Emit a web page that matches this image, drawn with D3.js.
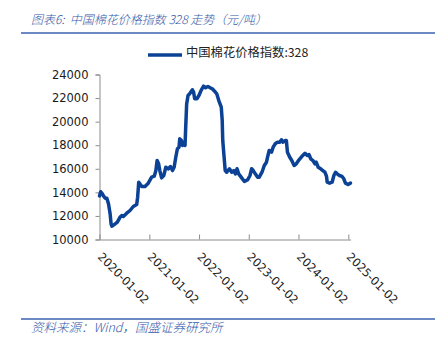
<!DOCTYPE html>
<html>
<head>
<meta charset="utf-8">
<script src="https://cdn.jsdelivr.net/npm/d3@7"></script>
<style>
  html, body { margin: 0; padding: 0; background: #fff; }
  svg { display: block; }
</style>
</head>
<body>
<svg id="chart" width="435" height="348"></svg>
<script>
// China Cotton Index 328, yuan per ton
const dates = [
  "2020-01-02","2020-01-11","2020-01-22","2020-01-31","2020-02-13","2020-02-25","2020-03-08","2020-03-20",
  "2020-03-27","2020-04-02","2020-04-11","2020-04-26","2020-05-12","2020-06-01","2020-06-14","2020-06-25",
  "2020-07-20","2020-08-13","2020-09-06","2020-10-01","2020-10-08","2020-10-16","2020-10-25","2020-11-07",
  "2020-12-01","2020-12-25","2021-01-19","2021-02-07","2021-02-19","2021-02-28","2021-03-11","2021-03-20",
  "2021-04-02","2021-04-18","2021-05-03","2021-05-20","2021-06-06","2021-06-21","2021-07-03","2021-07-15",
  "2021-07-27","2021-08-08","2021-08-13","2021-08-26","2021-09-02","2021-09-14","2021-09-21","2021-09-26",
  "2021-10-03","2021-10-13","2021-10-25","2021-11-14","2021-11-23","2021-12-01","2021-12-17","2022-01-01",
  "2022-01-19","2022-02-04","2022-02-19","2022-03-08","2022-03-25","2022-04-09","2022-04-26","2022-05-12",
  "2022-05-27","2022-06-14","2022-06-21","2022-06-25","2022-07-03","2022-07-13","2022-07-24","2022-08-13",
  "2022-08-30","2022-09-14","2022-09-26","2022-10-08","2022-10-20","2022-11-07","2022-12-01","2022-12-25",
  "2023-01-11","2023-01-23","2023-02-04","2023-02-19","2023-03-08","2023-03-20","2023-04-09","2023-04-26",
  "2023-05-12","2023-05-20","2023-06-01","2023-06-18","2023-06-30","2023-07-15","2023-08-01","2023-08-18",
  "2023-08-30","2023-09-11","2023-09-26","2023-10-05","2023-10-13","2023-10-30","2023-11-14","2023-12-01",
  "2023-12-17","2024-01-06","2024-01-26","2024-02-19","2024-03-07","2024-03-19","2024-04-01","2024-04-17",
  "2024-05-02","2024-05-11","2024-05-26","2024-06-13","2024-06-29","2024-07-14","2024-07-26","2024-07-31",
  "2024-08-17","2024-09-05","2024-09-18","2024-09-30","2024-10-12","2024-10-29","2024-11-17","2024-11-30",
  "2024-12-12","2024-12-31","2025-01-18"
];
const prices = [
  13700,14050,13900,13700,13500,13500,13030,12180,
  11330,11130,11200,11330,11470,11900,12030,11950,
  12230,12460,12800,12970,13590,14860,14720,14500,
  14500,14780,15290,15370,15850,16700,16420,15850,
  15230,15430,16130,15990,16190,15850,16130,16980,
  17700,17830,18540,18400,17980,18120,17980,19530,
  21510,22220,22360,22700,22500,21940,21940,22220,
  22700,23010,22870,22980,22870,22790,22580,22360,
  21790,21230,20100,18400,17270,15850,15710,16000,
  15710,15850,15570,16000,15570,15290,14920,15070,
  15430,16000,15850,15570,15290,15290,15710,16280,
  16560,16980,17550,17410,17830,18120,18260,18260,
  18460,18260,18400,18400,17410,16980,16700,16280,
  16420,16760,17040,17320,17130,17210,16850,16700,
  16420,16560,16130,16000,15850,15710,15350,14860,
  14780,14860,15430,15710,15570,15430,15350,15150,
  14780,14670,14780
];
const yTicks = [10000, 12000, 14000, 16000, 18000, 20000, 22000, 24000];
const xTickLabels = ["2020-01-02","2021-01-02","2022-01-02","2023-01-02","2024-01-02","2025-01-02"];
const seriesName = "中国棉花价格指数:328";
const titleText = "图表6:  中国棉花价格指数 328 走势（元/吨）";
const sourceText = "资料来源：Wind，国盛证券研究所";

const parse = d3.utcParse("%Y-%m-%d");
const data = dates.map((d, i) => ({ date: parse(d), value: prices[i] }));

const svg = d3.select("#chart");
const cjk = "'Noto Sans CJK SC', 'Noto Sans', sans-serif";
const latin = "'DejaVu Sans', Verdana, sans-serif";
const accent = "#3A62AE";
const lineColor = "#0B4295";
const axisColor = "#8C8C8C";

// Title and rules
svg.append("text")
  .attr("x", 31).attr("y", 24)
  .attr("font-family", cjk).attr("font-size", 12).attr("font-style", "italic")
  .attr("font-weight", 300)
  .attr("fill", "#3359A8")
  .style("white-space", "pre")
  .text(titleText);
svg.append("line").attr("x1", 21).attr("x2", 435).attr("y1", 33).attr("y2", 33)
  .attr("stroke", accent).attr("stroke-width", 1.6);
svg.append("line").attr("x1", 21).attr("x2", 435).attr("y1", 319).attr("y2", 319)
  .attr("stroke", accent).attr("stroke-width", 1.6);
svg.append("text")
  .attr("x", 31).attr("y", 332)
  .attr("font-family", cjk).attr("font-size", 12.5).attr("font-style", "italic")
  .attr("font-weight", 300)
  .attr("fill", "#3359A8")
  .text(sourceText);

// Scales
const x = d3.scaleUtc()
  .domain(d3.extent(data, d => d.date))
  .range([99.5, 350.5]);
const y = d3.scaleLinear()
  .domain([10000, 24000])
  .range([239.5, 74.5]);

// Y axis
const yAxis = svg.append("g")
  .attr("transform", `translate(${x.range()[0]},0)`)
  .call(d3.axisLeft(y).tickValues(yTicks).tickSize(4).tickPadding(7).tickFormat(d3.format("d")));
yAxis.select(".domain").attr("stroke", axisColor);
yAxis.selectAll(".tick line").attr("stroke", axisColor);
yAxis.selectAll("text")
  .attr("font-family", latin).attr("font-size", 11.5).attr("fill", "#1a1a1a");

// X axis
const xAxis = svg.append("g")
  .attr("transform", `translate(0,${y.range()[0]})`)
  .call(d3.axisBottom(x).tickValues(xTickLabels.map(parse)).tickSize(-5).tickSizeOuter(0).tickFormat(d3.utcFormat("%Y-%m-%d")));
xAxis.select(".domain").attr("stroke", axisColor);
xAxis.selectAll(".tick line").attr("stroke", axisColor);
xAxis.selectAll("text")
  .attr("font-family", latin).attr("font-size", 11.5).attr("fill", "#1a1a1a")
  .attr("text-anchor", "start")
  .attr("x", 0).attr("y", 0).attr("dy", 0)
  .attr("transform", "translate(-3,18) rotate(45)");

// Series line
svg.append("path")
  .datum(data)
  .attr("fill", "none")
  .attr("stroke", lineColor)
  .attr("stroke-width", 3.5)
  .attr("stroke-linejoin", "round")
  .attr("stroke-linecap", "round")
  .attr("d", d3.line().x(d => x(d.date)).y(d => y(d.value)));

// Legend
const lg = svg.append("g").attr("transform", "translate(148,55)");
lg.append("line").attr("x1", 0).attr("x2", 34).attr("y1", 0).attr("y2", 0)
  .attr("stroke", lineColor).attr("stroke-width", 3.5);
lg.append("text")
  .attr("x", 38).attr("y", 2)
  .attr("font-family", cjk).attr("font-size", 12.3).attr("fill", "#222")
  .text(seriesName);
</script>
</body>
</html>
